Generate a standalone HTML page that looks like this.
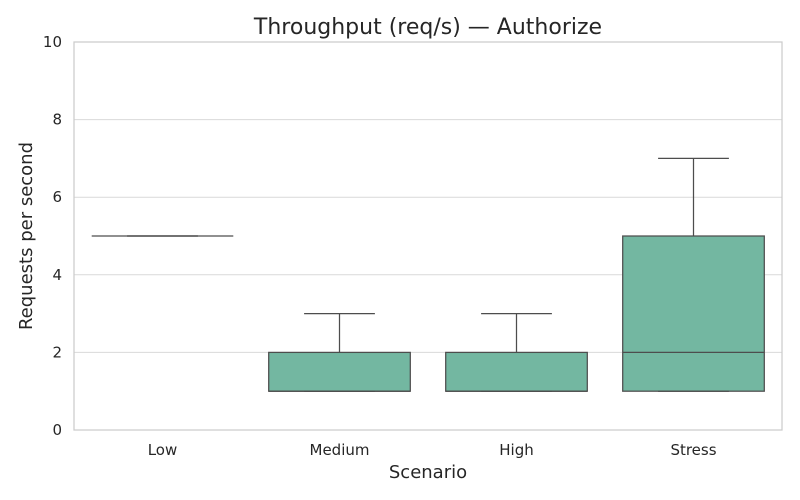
<!DOCTYPE html>
<html><head><meta charset="utf-8"><style>
body{margin:0;background:#fff;}
svg{display:block;font-family:"DejaVu Sans","Liberation Sans",sans-serif;}
</style></head><body>
<svg id="chart" width="800" height="500">
<text x="428" y="34" text-anchor="middle" font-size="22" fill="#262626">Throughput (req/s) — Authorize</text>
<text x="428" y="478" text-anchor="middle" font-size="18" fill="#262626">Scenario</text>
<text transform="translate(32,236) rotate(-90)" text-anchor="middle" font-size="18" fill="#262626">Requests per second</text>
<g id="grid"></g><g id="boxes"></g><g id="ticks"></g>
<rect x="74" y="42" width="708" height="388" fill="none" stroke="#cccccc" stroke-width="1.25"/>
</svg>
<script>
const categories=["Low","Medium","High","Stress"];
const whiskerLow=[5,1,1,1];
const q1=[5,1,1,1];
const median=[5,1,1,2];
const q3=[5,2,2,5];
const whiskerHigh=[5,3,3,7];
const yTicks=[0,2,4,6,8,10];
const NS="http://www.w3.org/2000/svg";
const x0=74,x1=782,yTop=42,yBot=430,yMax=10;
const y=v=>yBot-(v/yMax)*(yBot-yTop);
const band=(x1-x0)/categories.length;
const xc=i=>x0+band*(i+0.5);
function mk(t,a,p){const e=document.createElementNS(NS,t);for(const k in a)e.setAttribute(k,a[k]);p.appendChild(e);return e;}
const grid=document.getElementById('grid'),ticks=document.getElementById('ticks'),boxes=document.getElementById('boxes');
yTicks.forEach(v=>{
  const l=mk('line',{x1:x0,x2:x1,y1:y(v),y2:y(v),stroke:'#d9d9d9','stroke-width':1},grid);
  
  
  const t=mk('text',{x:x0-12,y:y(v)+5,'text-anchor':'end','font-size':15,fill:'#262626'},ticks);
  t.textContent=v;
  
  
});
categories.forEach((c,i)=>{
  const cx=xc(i),bw=band*0.8,cw=bw/2;
  const g=mk('g',{},boxes);
  
  
  const st={stroke:'#4d4d4d','stroke-width':1.25};
  mk('line',Object.assign({x1:cx,x2:cx,y1:y(q3[i]),y2:y(whiskerHigh[i])},st),g);
  mk('line',Object.assign({x1:cx,x2:cx,y1:y(q1[i]),y2:y(whiskerLow[i])},st),g);
  mk('rect',Object.assign({x:cx-bw/2,y:y(q3[i]),width:bw,height:Math.max(0,y(q1[i])-y(q3[i])),fill:'#73b7a1'},st),g);
  mk('line',Object.assign({x1:cx-cw/2,x2:cx+cw/2,y1:y(whiskerHigh[i]),y2:y(whiskerHigh[i])},st),g);
  mk('line',Object.assign({x1:cx-cw/2,x2:cx+cw/2,y1:y(whiskerLow[i]),y2:y(whiskerLow[i])},st),g);
  mk('line',Object.assign({x1:cx-bw/2,x2:cx+bw/2,y1:y(median[i]),y2:y(median[i])},st),g);
  const t=mk('text',{x:cx,y:455,'text-anchor':'middle','font-size':15,fill:'#262626'},ticks);
  t.textContent=c;
  
  
});
</script>
</body></html>
